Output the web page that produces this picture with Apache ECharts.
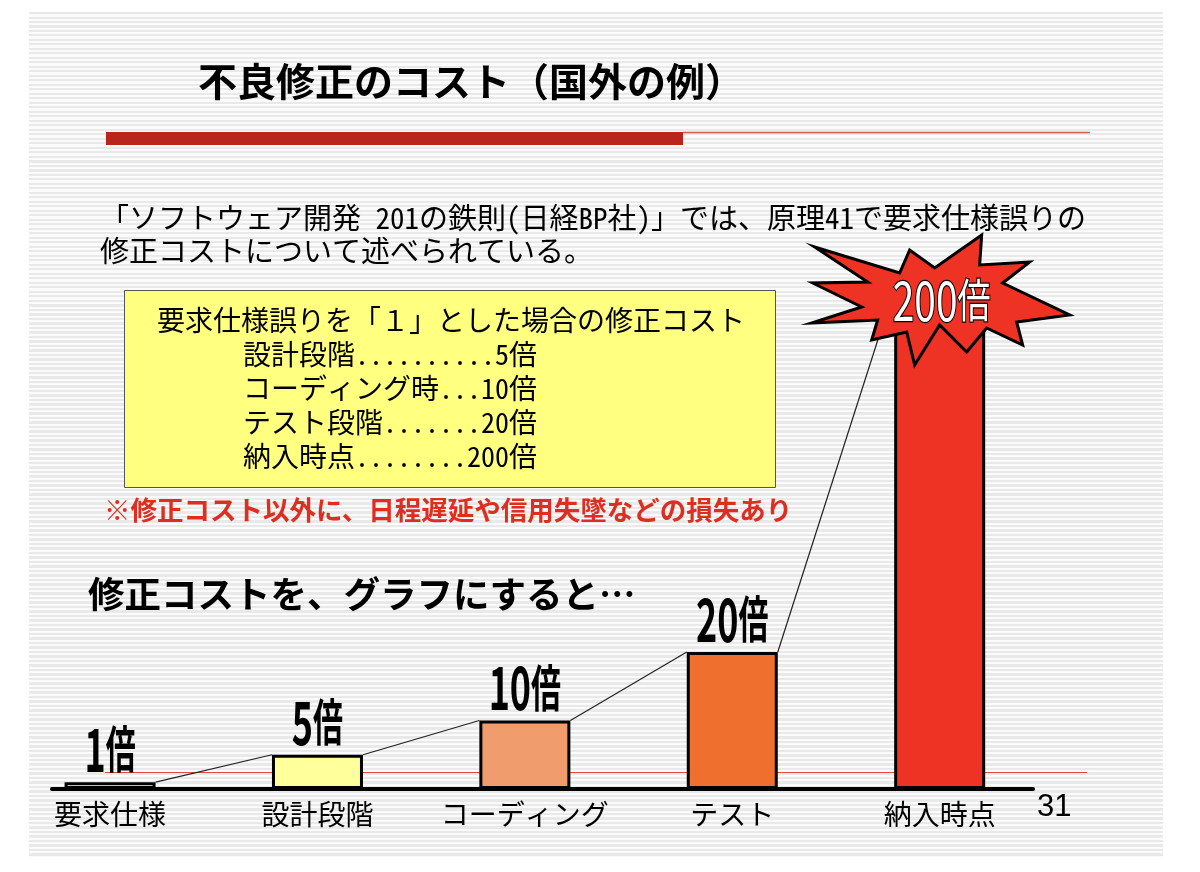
<!DOCTYPE html>
<html>
<head>
<meta charset="utf-8">
<script src="https://cdn.jsdelivr.net/npm/echarts@6/dist/echarts.min.js"></script>
<style>
  html, body { margin: 0; padding: 0; background: #fff; }
  #wrap { position: relative; width: 1200px; height: 872px; overflow: hidden; }
  #stripes {
    position: absolute; left: 29px; top: 12px; width: 1134px; height: 845px;
    background: repeating-linear-gradient(to bottom, #e9e9e9 0px, #e9e9e9 2px, #fbfbfb 2px, #fbfbfb 4.5px);
  }
  #main { position: absolute; left: 0; top: 0; width: 1200px; height: 872px; }
</style>
</head>
<body>
<div id="wrap">
  <div id="stripes"></div>
  <div id="main"></div>
</div>
<script>
// stages and cost ratios (requirement error = 1)
var stages = ['要求仕様', '設計段階', 'コーディング', 'テスト', '納入時点'];
var costRatio = [1, 5, 10, 20, 200];
var barColors = ['#ffffff', '#ffff9c', '#f19c6c', '#ee6f2e', '#ee3224'];

var titleText = '不良修正のコスト（国外の例）';
var introLines = [
  '「ソフトウェア開発 201の鉄則(日経BP社)」では、原理41で要求仕様誤りの',
  '修正コストについて述べられている。'
];
var boxLines = [
  '要求仕様誤りを「１」とした場合の修正コスト',
  '設計段階..........5倍',
  'コーディング時...10倍',
  'テスト段階.......20倍',
  '納入時点........200倍'
];
var noteText = '※修正コスト以外に、日程遅延や信用失墜などの損失あり';
var headingText = '修正コストを、グラフにすると…';
var pageNo = '31';

// the axis is cut off so the 200x bar runs out of the top
var yMax = 73;
var halfBar = 45.5;
var JP = "'Noto Sans Mono CJK JP', 'Noto Sans CJK JP', sans-serif";
var JPB = "'Noto Sans CJK JP', sans-serif";

var starPath = 'M42,-65L40,-35L90,-38L63,-17L130,15L77,22L83,45L47,28L27,52L0,25L-25,65L-33,32L-68,40L-62,20L-128,23L-78,7L-127,-17L-72,-18L-125,-53L-40,-27L-30,-50L-5,-32Z';

var myChart = echarts.init(document.getElementById('main'));

var graphics = [
  { type: 'text', left: 198, top: 62, style: { text: titleText, font: 'bold 39px ' + JPB, fill: '#000' } },
  { type: 'rect', shape: { x: 106, y: 132, width: 577, height: 13 }, style: { fill: '#b9251b' } },
  { type: 'line', shape: { x1: 683, y1: 132.5, x2: 1090, y2: 132.5 }, style: { stroke: '#dc5a55', lineWidth: 1.5 } },
  { type: 'rect', shape: { x: 124.5, y: 290.5, width: 651, height: 197 }, style: { fill: '#ffff80', stroke: '#555', lineWidth: 1 } },
  { type: 'text', left: 104, top: 497, style: { text: noteText, font: 'bold 26.5px ' + JPB, fill: '#dd2e20' } },
  { type: 'text', left: 88, top: 576, style: { text: headingText, font: 'bold 36.5px ' + JPB, fill: '#000' } },
  { type: 'line', shape: { x1: 105, y1: 772.5, x2: 1087, y2: 772.5 }, style: { stroke: '#e04a45', lineWidth: 1 } },
  { type: 'text', left: 1037, top: 792, style: { text: pageNo, font: '31px "Liberation Sans", sans-serif', fill: '#000' } }
];
introLines.forEach(function (t, i) {
  graphics.push({ type: 'text', left: 100, top: 203 + i * 33, style: { text: t, font: '29px ' + JP, fill: '#000' } });
});
boxLines.forEach(function (t, i) {
  graphics.push({ type: 'text', left: i === 0 ? 157 : 243, top: 306 + i * 34, style: { text: t, font: '28px ' + JP, fill: '#000' } });
});

// condensed "N倍" text: tall digits, narrow kanji
function ratioText(x, y, v, opts) {
  return {
    type: 'text',
    x: x,
    y: y,
    scaleX: opts.scaleX,
    style: {
      text: '{d|' + v + '}{k|倍}',
      align: 'center',
      verticalAlign: opts.vAlign,
      fill: opts.fill,
      stroke: opts.stroke,
      lineWidth: opts.lineWidth || 0,
      fontFamily: JPB,
      fontWeight: opts.weight,
      rich: {
        d: { fontSize: opts.digit, fontWeight: opts.weight, fontFamily: JPB, verticalAlign: 'middle' },
        k: { fontSize: opts.kanji, fontWeight: opts.weight, fontFamily: JPB, verticalAlign: 'middle' }
      }
    }
  };
}

var option = {
  animation: false,
  backgroundColor: 'transparent',
  graphic: graphics,
  grid: { left: 52, right: 167, top: 289, bottom: 83 },
  xAxis: {
    type: 'value',
    min: -0.28,
    max: 4.45,
    axisLine: { show: true, lineStyle: { color: '#000', width: 4 } },
    axisTick: { show: false },
    splitLine: { show: false },
    axisLabel: {
      showMinLabel: false,
      showMaxLabel: false,
      margin: 10,
      fontSize: 28,
      lineHeight: 30,
      color: '#000',
      fontFamily: JP,
      formatter: function (v) {
        var r = Math.round(v);
        return Math.abs(v - r) < 1e-6 && stages[r] ? stages[r] : '';
      }
    }
  },
  yAxis: { type: 'value', min: 0, max: yMax, show: false },
  series: [
    {
      // thin lines joining the top corners of neighbouring bars
      type: 'custom',
      z: 1,
      data: costRatio.slice(0, 4).map(function (v, i) { return [i, v, i + 1, costRatio[i + 1]]; }),
      renderItem: function (params, api) {
        var a = api.coord([api.value(0), Math.min(api.value(1), yMax)]);
        var b = api.coord([api.value(2), Math.min(api.value(3), yMax)]);
        return {
          type: 'line',
          shape: { x1: a[0] + halfBar, y1: a[1], x2: b[0] - halfBar, y2: b[1] },
          style: { stroke: '#222', lineWidth: 1.2 }
        };
      }
    },
    {
      type: 'bar',
      z: 2,
      barWidth: 91,
      data: costRatio.map(function (v, i) {
        return { value: [i, v], itemStyle: { color: barColors[i] } };
      }),
      itemStyle: { borderColor: '#000', borderWidth: 3 }
    },
    {
      // labels above bars, starburst for the clipped 200x bar
      type: 'custom',
      z: 3,
      data: costRatio.map(function (v, i) { return [i, v]; }),
      renderItem: function (params, api) {
        var v = api.value(1);
        var p = api.coord([api.value(0), Math.min(v, yMax)]);
        if (v <= yMax) {
          return ratioText(p[0], p[1] - 3, v, {
            scaleX: 0.6, vAlign: 'bottom', fill: '#000', weight: 'bold', digit: 60, kanji: 50
          });
        }
        var cx = p[0] + 1, cy = p[1] + 11;
        return {
          type: 'group',
          children: [
            {
              type: 'path',
              shape: { pathData: starPath, x: cx - 129, y: cy - 65, width: 258, height: 130, layout: 'cover' },
              style: { fill: '#ee3224', stroke: '#000', lineWidth: 3 }
            },
            ratioText(cx + 1, cy, v, {
              scaleX: 0.72, vAlign: 'middle', fill: '#000', stroke: '#000', lineWidth: 2.5, weight: 'normal', digit: 54, kanji: 46
            }),
            ratioText(cx + 1, cy, v, {
              scaleX: 0.72, vAlign: 'middle', fill: '#fff', weight: 'normal', digit: 54, kanji: 46
            })
          ]
        };
      }
    }
  ]
};
myChart.setOption(option);
</script>
</body>
</html>
